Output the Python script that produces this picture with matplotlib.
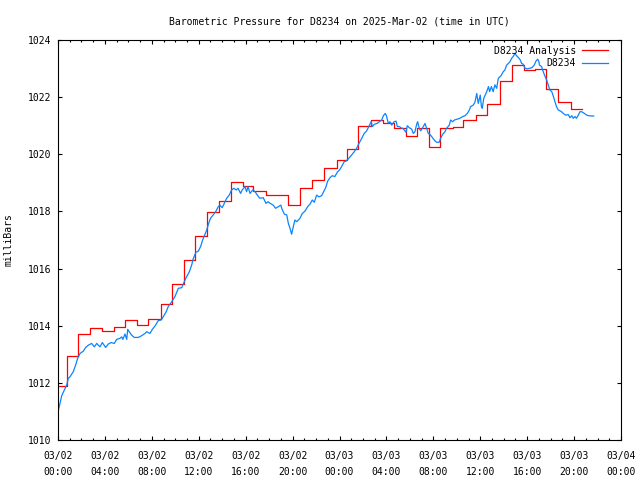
import matplotlib
matplotlib.use('Agg')
import matplotlib.pyplot as plt
from matplotlib.ticker import MultipleLocator

plt.rcParams['font.family'] = ['DejaVu Sans Mono']
plt.rcParams['font.size'] = 7

# hours since 2025-03-02 00:00 UTC

# analysis (hourly steps)
red_hours = [0.0, 0.75, 1.7, 2.7, 3.75, 4.75, 5.7, 6.7, 7.7, 8.8, 9.7, 10.7, 11.7, 12.7,
             13.7, 14.75, 15.75, 16.65, 17.7, 18.7, 19.65, 20.65, 21.65, 22.7, 23.75,
             24.65, 25.6, 26.65, 27.7, 28.65, 29.7, 30.65, 31.6, 32.6, 33.7, 34.55, 35.6,
             36.6, 37.7, 38.7, 39.7, 40.7, 41.6, 42.6, 43.7]
red_values = [1011.89, 1012.94, 1013.70, 1013.91, 1013.80, 1013.94, 1014.19, 1014.01,
              1014.22, 1014.75, 1015.45, 1016.29, 1017.14, 1017.99, 1018.36, 1019.02,
              1018.88, 1018.71, 1018.56, 1018.56, 1018.22, 1018.81, 1019.10, 1019.51,
              1019.79, 1020.17, 1020.99, 1021.19, 1021.08, 1020.92, 1020.64, 1020.92,
              1020.24, 1020.91, 1020.94, 1021.20, 1021.36, 1021.76, 1022.58, 1023.12,
              1022.95, 1022.99, 1022.27, 1021.84, 1021.60]
red_end = 44.7

# station observations
blue_hours = [0.0, 0.17, 0.31, 0.54, 0.74, 0.88, 1.02, 1.3, 1.5, 1.68, 1.88, 2.16, 2.36,
              2.59, 2.87, 3.1, 3.3, 3.58, 3.78, 4.06, 4.29, 4.52, 4.8, 5.0, 5.29, 5.43,
              5.53, 5.71, 5.86, 5.94, 6.0, 6.28, 6.5, 6.85, 7.13, 7.42, 7.56, 7.84, 8.04,
              8.27, 8.55, 8.8, 9.2, 9.4, 9.7, 9.97, 10.26, 10.55, 10.7, 10.9, 11.2, 11.4,
              11.54, 11.76, 11.96, 12.16, 12.33, 12.53, 12.68, 12.82, 13.0, 13.24, 13.47,
              13.67, 13.81, 14.0, 14.24, 14.38, 14.6, 14.8, 15.0, 15.2, 15.35, 15.57, 15.7,
              15.94, 16.08, 16.2, 16.37, 16.6, 16.8, 17.0, 17.2, 17.5, 17.73, 17.9, 18.1,
              18.35, 18.55, 18.76, 19.0, 19.1, 19.3, 19.5, 19.64, 19.78, 19.92, 20.06,
              20.2, 20.35, 20.5, 20.63, 20.83, 21.06, 21.29, 21.48, 21.68, 21.85, 22.05,
              22.25, 22.48, 22.62, 22.82, 22.99, 23.19, 23.38, 23.6, 23.84, 24.0, 24.18,
              24.4, 24.6, 24.8, 25.04, 25.26, 25.46, 25.66, 25.9, 26.1, 26.3, 26.5, 26.7,
              26.8, 26.97, 27.2, 27.4, 27.6, 27.74, 27.9, 28.0, 28.16, 28.3, 28.45, 28.65,
              28.82, 28.93, 29.1, 29.3, 29.4, 29.67, 29.78, 29.95, 30.15, 30.29, 30.43,
              30.58, 30.66, 30.8, 30.92, 31.09, 31.29, 31.43, 31.57, 31.7, 31.86, 32.0,
              32.14, 32.28, 32.5, 32.62, 32.8, 32.99, 33.13, 33.36, 33.47, 33.65, 33.8,
              34.04, 34.27, 34.5, 34.7, 34.9, 35.07, 35.18, 35.4, 35.55, 35.7, 35.83, 36.0,
              36.1, 36.17, 36.3, 36.55, 36.7, 36.8, 36.95, 37.1, 37.25, 37.4, 37.54,
              37.77, 37.96, 38.1, 38.25, 38.4, 38.53, 38.68, 38.8, 38.96, 39.1, 39.24,
              39.4, 39.53, 39.67, 39.81, 40.0, 40.2, 40.4, 40.6, 40.75, 40.9, 41.0, 41.05,
              41.23, 41.37, 41.5, 41.66, 41.8, 41.94, 42.1, 42.2, 42.37, 42.5, 42.65, 42.9,
              43.08, 43.28, 43.5, 43.65, 43.8, 43.93, 44.08, 44.2, 44.36, 44.5, 44.65,
              44.88, 45.07, 45.26, 45.5, 45.67]
blue_values = [1010.99, 1011.28, 1011.54, 1011.75, 1011.92, 1012.16, 1012.21, 1012.39,
               1012.62, 1012.86, 1013.03, 1013.11, 1013.24, 1013.32, 1013.38, 1013.26,
               1013.38, 1013.26, 1013.41, 1013.24, 1013.36, 1013.41, 1013.38, 1013.52,
               1013.56, 1013.61, 1013.52, 1013.71, 1013.52, 1013.87, 1013.83, 1013.67,
               1013.59, 1013.59, 1013.65, 1013.73, 1013.79, 1013.73, 1013.87, 1013.99,
               1014.18, 1014.20, 1014.47, 1014.67, 1014.84, 1015.02, 1015.31, 1015.33,
               1015.48, 1015.66, 1015.89, 1016.13, 1016.36, 1016.57, 1016.61, 1016.77,
               1017.00, 1017.20, 1017.35, 1017.55, 1017.76, 1017.88, 1018.01, 1018.17,
               1018.22, 1018.13, 1018.34, 1018.46, 1018.57, 1018.75, 1018.81, 1018.75,
               1018.81, 1018.63, 1018.75, 1018.87, 1018.69, 1018.87, 1018.63, 1018.75,
               1018.69, 1018.57, 1018.46, 1018.48, 1018.28, 1018.34, 1018.28, 1018.22,
               1018.11, 1018.16, 1018.22, 1018.08, 1017.90, 1017.88, 1017.58, 1017.41,
               1017.20, 1017.47, 1017.70, 1017.64, 1017.70, 1017.76, 1017.93, 1018.01,
               1018.17, 1018.25, 1018.40, 1018.32, 1018.57, 1018.51, 1018.55, 1018.67,
               1018.83, 1019.06, 1019.18, 1019.25, 1019.22, 1019.39, 1019.45, 1019.57,
               1019.74, 1019.77, 1019.86, 1019.98, 1020.09, 1020.21, 1020.38, 1020.56,
               1020.73, 1020.81, 1020.97, 1021.14, 1020.97, 1021.05, 1021.08, 1021.14,
               1021.20, 1021.35, 1021.43, 1021.35, 1021.08, 1021.14, 1021.02, 1021.14,
               1021.16, 1020.97, 1020.97, 1020.91, 1020.91, 1020.77, 1021.00, 1020.93,
               1020.88, 1020.73, 1020.79, 1021.05, 1021.14, 1020.91, 1020.82, 1020.93,
               1021.08, 1020.91, 1020.73, 1020.70, 1020.62, 1020.54, 1020.47, 1020.42,
               1020.42, 1020.56, 1020.70, 1020.79, 1020.91, 1021.02, 1021.20, 1021.14,
               1021.20, 1021.23, 1021.26, 1021.32, 1021.35, 1021.43, 1021.55, 1021.67,
               1021.72, 1021.82, 1022.13, 1021.78, 1022.07, 1021.67, 1021.61, 1021.96,
               1022.19, 1022.37, 1022.19, 1022.37, 1022.19, 1022.43, 1022.31, 1022.66,
               1022.75, 1022.89, 1022.95, 1023.12, 1023.18, 1023.24, 1023.36, 1023.42,
               1023.53, 1023.45, 1023.39, 1023.31, 1023.18, 1023.15, 1023.01, 1022.99,
               1023.01, 1023.03, 1023.12, 1023.26, 1023.33, 1023.24, 1023.12, 1023.07,
               1022.89, 1022.75, 1022.60, 1022.43, 1022.25, 1022.19, 1022.07, 1021.84,
               1021.67, 1021.55, 1021.50, 1021.43, 1021.37, 1021.39, 1021.28, 1021.35,
               1021.26, 1021.32, 1021.26, 1021.37, 1021.49, 1021.49, 1021.43, 1021.37,
               1021.35, 1021.34, 1021.34]

xtick_labels = ['03/02\n00:00', '03/02\n04:00', '03/02\n08:00', '03/02\n12:00',
                '03/02\n16:00', '03/02\n20:00', '03/03\n00:00', '03/03\n04:00',
                '03/03\n08:00', '03/03\n12:00', '03/03\n16:00', '03/03\n20:00',
                '03/04\n00:00']

fig = plt.figure(figsize=(6.4, 4.8), dpi=100)
ax = fig.add_axes([58 / 640, 40 / 480, 563 / 640, 400 / 480])

ax.plot(red_hours + [red_end], red_values + [red_values[-1]], drawstyle='steps-post',
        color='#ff0000', lw=0.9, label='D8234 Analysis')
ax.plot(blue_hours, blue_values, color='#0a84ff', lw=0.9, label='D8234')

ax.set_xlim(0, 48)
ax.set_ylim(1010, 1024)
ax.set_xticks(range(0, 49, 4))
ax.set_xticklabels(xtick_labels, linespacing=1.7)
ax.xaxis.set_minor_locator(MultipleLocator(1))
ax.set_yticks(range(1010, 1025, 2))
ax.tick_params(which='both', direction='in', top=True, right=True, color='black',
               width=0.8)
ax.tick_params(axis='x', which='major', length=3, pad=8)
ax.tick_params(axis='y', which='major', length=3, pad=5)
ax.tick_params(which='minor', length=1.5)
for s in ax.spines.values():
    s.set_linewidth(0.8)

ax.set_title('Barometric Pressure for D8234 on 2025-Mar-02 (time in UTC)', fontsize=7, pad=11)
ax.set_ylabel('milliBars', labelpad=10)

ax.legend(loc='upper right', bbox_to_anchor=(0.987, 1.0), frameon=False,
          markerfirst=False, handlelength=2.7, handletextpad=0.6, labelspacing=0.25,
          borderaxespad=0.2)

fig.savefig('out.png', dpi=100)
